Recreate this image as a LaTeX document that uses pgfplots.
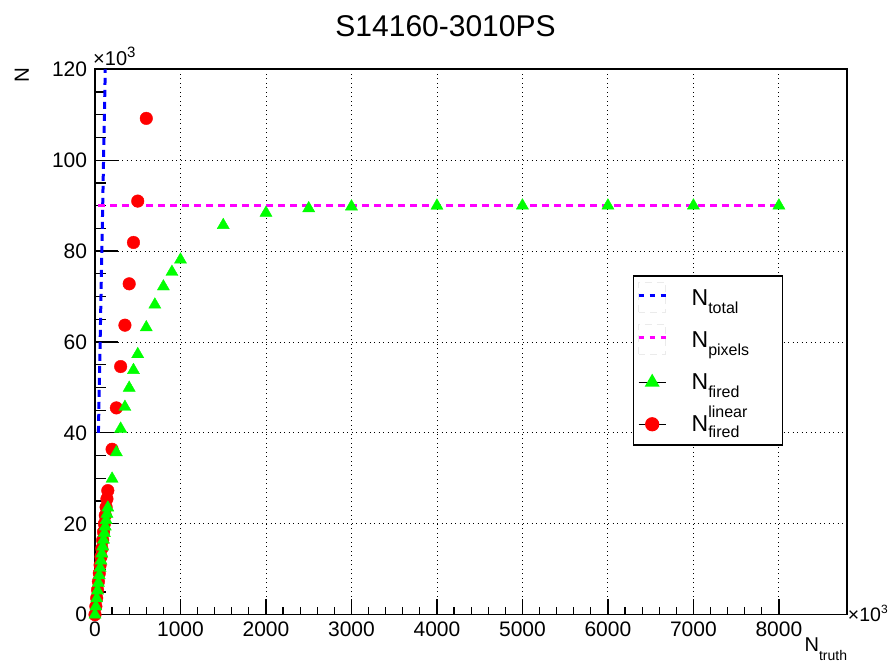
\documentclass[border=0pt]{standalone}
\usepackage{pgfplots}
\pgfplotsset{compat=1.18}
\usepackage{fontspec}
\setmainfont{Liberation Sans}
\definecolor{rgreen}{RGB}{0,255,0}
\definecolor{rred}{RGB}{255,0,0}
\definecolor{rblue}{RGB}{0,0,255}
\definecolor{rmag}{RGB}{255,0,255}
\newcommand{\lsub}[1]{\raisebox{-7.7pt}{\fontsize{16}{16}\selectfont #1}}
\begin{document}
\begin{tikzpicture}
\useasboundingbox (0pt,0pt) rectangle (889pt,663pt);
\begin{axis}[
  at={(95pt,48.3pt)}, anchor=south west,
  scale only axis, width=752.3pt, height=545.4pt,
  xmin=0, xmax=8800, ymin=0, ymax=120,
  clip=false,
  axis line style={line width=1.6pt, black},
  tick pos=left, tick align=inside,
  xtick={0,1000,...,8000}, minor x tick num=4,
  ytick={0,20,...,120}, minor y tick num=3,
  xtick style={/pgfplots/major tick length=16pt, /pgfplots/minor tick length=8pt},
  ytick style={/pgfplots/major tick length=23pt, /pgfplots/minor tick length=11.5pt},
  tick style={black, line width=1.2pt},
  grid=major, major grid style={black, line width=0.9pt, dash pattern=on 1pt off 3.5pt},
  scaled ticks=false,
  /pgf/number format/1000 sep={},
  /pgf/number format/assume math mode=true,
  tick label style={font=\fontsize{21}{22}\selectfont},
  xticklabel style={yshift=-4pt},
  yticklabel style={xshift=-4.4pt},
  title={S14160-3010PS},
  every axis title/.style={at={(rel axis cs:0.466,1)}, anchor=base, yshift=32.6pt, inner sep=0pt, font=\fontsize{30}{30}\selectfont},
  xlabel={N\raisebox{-9pt}{\fontsize{14}{14}\selectfont truth}},
  every axis x label/.style={at={(rel axis cs:1,0)}, anchor=base east, yshift=-36.5pt, inner sep=0pt, font=\fontsize{20}{20}\selectfont},
  ylabel={N},
  every axis y label/.style={at={(rel axis cs:0,1)}, xshift=-66pt, yshift=1.3pt, rotate=90, anchor=base east, inner sep=0pt, font=\fontsize{20.5}{20.5}\selectfont},
  legend style={at={(rel axis cs:0.715,0.6229)}, anchor=north west, draw=black, line width=1.6pt, fill=white,
    inner xsep=5pt, inner ysep=5pt, row sep=9pt, font=\fontsize{23}{23}\selectfont,
    cells={anchor=base west},
    nodes={inner sep=0pt, text height=25pt, text depth=8pt, text width=86pt},
    /tikz/every odd column/.append style={column sep=26pt}},
]
% N_total
\addplot[rblue, line width=3pt, dash pattern=on 7pt off 5pt,
  legend image code/.code={
    \path[use as bounding box, draw=none, fill=none] (0pt,0pt) rectangle (27pt,20pt);
    \draw[black!8, line width=1pt, fill=none] (0pt,-6.7pt) rectangle (27pt,23.3pt);
    \draw[rblue, line width=3pt, dash pattern=on 5pt off 6pt] (0pt,10pt) -- (27pt,10pt);}]
  coordinates {(40,40) (120,120)};
\addlegendentry{N\lsub{total}}
% N_pixels
\addplot[rmag, line width=3pt, dash pattern=on 7pt off 5pt,
  legend image code/.code={
    \path[use as bounding box, draw=none, fill=none] (0pt,0pt) rectangle (27pt,20pt);
    \draw[black!8, line width=1pt, fill=none] (0pt,-6.7pt) rectangle (27pt,23.3pt);
    \draw[rmag, line width=3pt, dash pattern=on 5pt off 6pt] (0pt,10pt) -- (27pt,10pt);}]
  coordinates {(40,90) (8000,90)};
\addlegendentry{N\lsub{pixels}}
% N_fired linear (drawn below the green markers)
\addplot[only marks, mark=*, color=rred, mark size=6.3pt, forget plot] coordinates {
(0,0) (10,1.82) (20,3.64) (30,5.46) (40,7.28) (50,9.10) (60,10.92) (70,12.74) (80,14.56)
(90,16.38) (100,18.2) (110,20.02) (120,21.84) (130,23.66) (140,25.48) (150,27.3)
(200,36.4) (250,45.5) (300,54.6) (350,63.7) (400,72.8) (450,81.9) (500,91.0) (600,109.2)
};
% N_fired
\addplot[only marks, mark=triangle*, color=rgreen, mark size=7pt,
  legend image code/.code={
    \path[use as bounding box, draw=none, fill=none] (0pt,0pt) rectangle (27pt,20pt);
    \draw[black, line width=1.2pt] (0pt,7.5pt) -- (27pt,7.5pt);
    \draw[rgreen, fill=rgreen] plot[only marks, mark=triangle*, mark size=7pt] coordinates {(13.5pt,7.5pt)};}]
  coordinates {
(0,0) (10,1.80) (20,3.57) (30,5.30) (40,6.99) (50,8.65) (60,10.28) (70,11.88) (80,13.44)
(90,14.98) (100,16.48) (110,17.95) (120,19.39) (130,20.81) (140,22.19) (150,23.55)
(200,29.9) (250,35.7) (300,40.9) (350,45.7) (400,49.9) (450,53.8) (500,57.3)
(600,63.2) (700,68.2) (800,72.2) (900,75.4) (1000,78.1) (1500,85.7) (2000,88.4)
(2500,89.4) (3000,89.8) (4000,89.97) (5000,90.0) (6000,90.0) (7000,90.0) (8000,90.0)
};
\addlegendentry{N\lsub{fired}}
\addlegendimage{legend image code/.code={
    \path[use as bounding box, draw=none, fill=none] (0pt,0pt) rectangle (27pt,20pt);
    \draw[black, line width=1.2pt] (0pt,7.5pt) -- (27pt,7.5pt);
    \draw[rred, fill=rred] plot[only marks, mark=*, mark size=6.3pt] coordinates {(13.5pt,7.5pt)};}}
\addlegendentry{N\rlap{\raisebox{-6pt}{\fontsize{16}{16}\selectfont fired}}\raisebox{14pt}{\fontsize{16}{16}\selectfont linear}}
% x10^3 multipliers
\node[anchor=base west, inner sep=0pt, xshift=-2pt, yshift=3.3pt, font=\fontsize{20}{20}\selectfont]
  at (rel axis cs:0,1) {×10\raisebox{8pt}{\fontsize{15}{15}\selectfont 3}};
\node[anchor=base west, inner sep=0pt, xshift=0.5pt, yshift=-7pt, font=\fontsize{19.5}{20}\selectfont]
  at (rel axis cs:1,0) {×10\raisebox{8pt}{\fontsize{12}{12}\selectfont 3}};
\end{axis}
\end{tikzpicture}
\end{document}
